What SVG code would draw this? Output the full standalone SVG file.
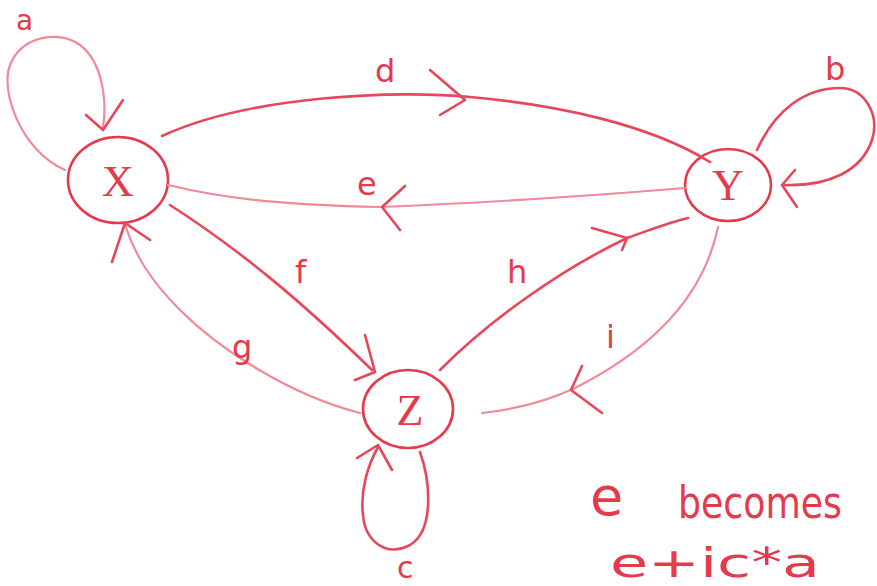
<svg xmlns="http://www.w3.org/2000/svg" width="877" height="586" viewBox="0 0 877 586">
<style>
.n{fill:none;stroke:#e43a4c;stroke-width:2.6}
.e{fill:none;stroke:#e8475a;stroke-width:2.6;stroke-linecap:round;stroke-linejoin:round}
.l{fill:none;stroke:#f08a98;stroke-width:2.2;stroke-linecap:round;stroke-linejoin:round}
.t{font-family:"DejaVu Sans","Liberation Sans",sans-serif;fill:#e43a4c}
.nl{font-family:"Liberation Serif",serif;fill:#e43a4c;font-size:44px}
</style>
<rect width="877" height="586" fill="#ffffff"/>
<g id="node-X">
<ellipse class="n" cx="118" cy="180" rx="50" ry="43"/>
<text class="nl" x="118" y="196" text-anchor="middle">X</text>
</g>
<g id="node-Y">
<ellipse class="n" cx="728" cy="185" rx="43" ry="36"/>
<text class="nl" x="728" y="200" text-anchor="middle">Y</text>
</g>
<g id="node-Z">
<ellipse class="n" cx="408" cy="409" rx="45" ry="39"/>
<text class="nl" x="410" y="425" text-anchor="middle">Z</text>
</g>
<g id="connectors">
<!-- a loop -->
<path class="l" d="M65,170 C20,150 0,90 10,65 C22,35 60,30 80,45 C100,60 108,95 103,128"/>
<path class="e" d="M86,115 L103,130 L123,100"/>
<!-- b loop -->
<path class="e" d="M757,150 C775,110 805,88 840,88 C865,88 880,115 872,140 C862,170 830,187 782,185"/>
<path class="e" d="M795,170 L782,185 L797,207"/>
<!-- c loop -->
<path class="e" d="M420,452 C430,480 435,530 410,545 C385,558 365,540 363,515 C360,490 368,465 378,447"/>
<path class="e" d="M357,458 L378,445 L392,470"/>
<!-- d -->
<path class="e" d="M162,136 C250,95 400,90 470,97 C560,105 650,125 710,162"/>
<path class="e" d="M430,70 L465,100 L440,115"/>
<!-- e -->
<path class="l" d="M685,188 C600,195 480,203 380,207 C290,205 230,200 168,185"/>
<path class="e" d="M405,186 L382,207 L400,230"/>
<!-- f -->
<path class="e" d="M170,205 C240,250 300,300 372,370"/>
<path class="e" d="M365,335 L375,372 L355,380"/>
<!-- g -->
<path class="l" d="M360,413 C290,395 220,350 180,310 C150,280 135,255 125,225"/>
<path class="e" d="M150,240 L125,223 L112,262"/>
<!-- h -->
<path class="e" d="M440,370 C490,320 560,270 627,238 C650,230 670,222 688,218"/>
<path class="e" d="M592,228 L627,238 L622,250"/>
<!-- i -->
<path class="l" d="M718,227 C705,290 660,345 575,388 C545,402 510,410 482,413"/>
<path class="e" d="M582,366 L571,390 L602,413"/>
</g>
<g id="labels">
<text class="t" x="16" y="30" font-size="28">a</text>
<text class="t" x="825" y="80" font-size="32">b</text>
<text class="t" x="397" y="578" font-size="30">c</text>
<text class="t" x="375" y="82" font-size="32">d</text>
<text class="t" x="357" y="195" font-size="32">e</text>
<text class="t" x="295" y="283" font-size="32">f</text>
<text class="t" x="232" y="358" font-size="32">g</text>
<text class="t" x="507" y="283" font-size="32">h</text>
<text class="t" x="606" y="348" font-size="32">i</text>
<text class="t" x="590" y="515" font-size="54">e</text>
<text class="t" x="678" y="518" font-size="44" textLength="164" lengthAdjust="spacingAndGlyphs">becomes</text>
<text class="t" x="610" y="577" font-size="40" textLength="210" lengthAdjust="spacingAndGlyphs">e+ic*a</text>
</g>
</svg>
